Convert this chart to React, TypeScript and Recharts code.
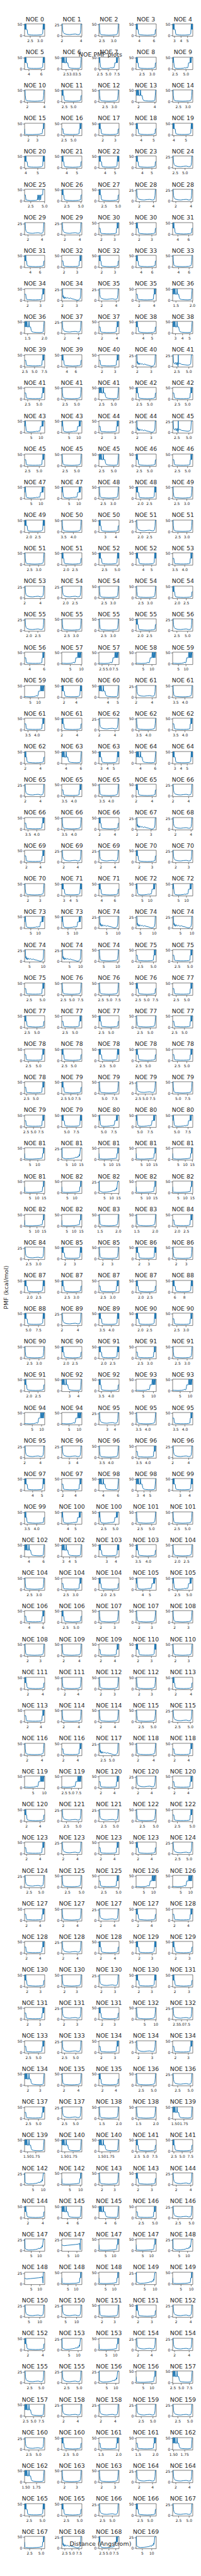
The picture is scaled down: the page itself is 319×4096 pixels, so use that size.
import React from "react";
import { LineChart, Line, XAxis, YAxis, ReferenceArea } from "recharts";

// whole figure is drawn at 0.738 of the reference size
const S = 0.738;
const FONT = "DejaVu Sans, sans-serif";
const INK = "#262626";
const BLUE = "#1f77b4";

// grid geometry in reference pixels
const COL_LEFT = [53.3, 132.9, 212.5, 292.1, 371.7];
const ROW_TOP0 = 51.7;
const PITCH = 71.23;
const AX_W = 43.3;
const AX_H = 26.6;

const PAD_L = 22;
const PAD_R = 8;
const PAD_T = 3;
const PAD_B = 14;

// one entry per subplot, row by row, five per row
const NOE_IDS = [
  0, 1, 2, 3, 4, 5, 6, 7, 8, 9, 10, 11, 12, 13, 14, 15, 16, 17, 18, 19,
  20, 21, 22, 23, 24, 25, 26, 27, 28, 28, 29, 29, 30, 30, 31, 31, 32, 32, 33, 33,
  34, 34, 35, 35, 36, 36, 37, 37, 38, 38, 39, 39, 40, 40, 41, 41, 41, 41, 42, 42,
  43, 43, 44, 44, 45, 45, 45, 45, 46, 46, 47, 47, 48, 48, 49, 49, 50, 50, 51, 51,
  51, 51, 52, 52, 53, 53, 54, 54, 54, 54, 55, 55, 55, 55, 56, 56, 57, 57, 58, 59,
  59, 60, 60, 61, 61, 61, 61, 62, 62, 62, 62, 63, 63, 64, 64, 65, 65, 65, 65, 66,
  66, 66, 66, 67, 68, 69, 69, 69, 70, 70, 70, 71, 71, 72, 72, 73, 73, 74, 74, 74,
  74, 74, 74, 75, 75, 75, 76, 76, 76, 77, 77, 77, 77, 77, 77, 78, 78, 78, 78, 78,
  78, 79, 79, 79, 79, 79, 79, 80, 80, 80, 81, 81, 81, 81, 81, 81, 82, 82, 82, 82,
  82, 82, 83, 83, 84, 84, 85, 85, 86, 86, 87, 87, 87, 87, 88, 88, 89, 89, 90, 90,
  90, 90, 91, 91, 91, 91, 92, 92, 93, 93, 94, 94, 95, 95, 95, 95, 96, 96, 96, 96,
  97, 97, 98, 98, 99, 99, 100, 100, 101, 101, 102, 102, 103, 103, 104, 104, 104, 104, 105, 105,
  106, 106, 107, 107, 108, 108, 109, 109, 110, 110, 111, 111, 112, 112, 113, 113, 114, 114, 115, 115,
  116, 116, 117, 118, 118, 119, 119, 120, 120, 120, 120, 121, 121, 122, 122, 123, 123, 123, 123, 124,
  124, 125, 125, 126, 126, 127, 127, 127, 127, 128, 128, 128, 128, 129, 129, 130, 130, 130, 130, 131,
  131, 131, 131, 132, 132, 133, 133, 134, 134, 134, 134, 135, 135, 136, 136, 137, 137, 138, 138, 139,
  139, 140, 140, 141, 141, 142, 142, 143, 143, 144, 144, 145, 145, 146, 146, 147, 147, 147, 147, 148,
  148, 148, 148, 149, 149, 150, 150, 151, 151, 152, 152, 153, 153, 154, 154, 155, 155, 156, 156, 157,
  157, 158, 158, 159, 159, 160, 160, 161, 161, 162, 162, 163, 163, 164, 164, 165, 165, 166, 166, 167,
  167, 168, 168, 169,
];

// top y tick of each subplot (50 or 25)
const Y_TOPS = [
  50, 25, 50, 50, 50, 50, 50, 50, 50, 50, 50, 50, 50, 50, 50, 50, 50, 50, 50, 50,
  50, 50, 50, 50, 25, 50, 50, 50, 25, 25, 25, 25, 50, 50, 50, 50, 50, 50, 50, 50,
  50, 25, 25, 50, 50, 50, 25, 50, 50, 50, 50, 50, 50, 25, 25, 50, 50, 50, 50, 50,
  50, 50, 50, 25, 25, 50, 50, 50, 50, 50, 50, 50, 50, 50, 50, 50, 50, 50, 25, 50,
  50, 50, 50, 50, 50, 25, 25, 50, 50, 50, 25, 50, 50, 50, 25, 50, 50, 50, 50, 50,
  50, 50, 50, 25, 50, 50, 50, 25, 50, 50, 50, 50, 50, 50, 50, 25, 50, 50, 50, 25,
  50, 50, 50, 25, 25, 50, 25, 25, 50, 25, 50, 50, 50, 50, 50, 50, 50, 25, 25, 25,
  25, 25, 50, 50, 50, 50, 50, 50, 50, 50, 50, 50, 50, 50, 50, 50, 50, 50, 50, 50,
  50, 50, 50, 25, 50, 50, 50, 50, 50, 50, 50, 25, 50, 50, 50, 50, 50, 25, 50, 50,
  50, 50, 50, 50, 50, 25, 50, 50, 50, 50, 50, 50, 50, 50, 50, 50, 25, 50, 50, 50,
  50, 50, 50, 50, 50, 50, 50, 50, 50, 50, 50, 50, 25, 50, 50, 25, 25, 50, 50, 25,
  50, 50, 50, 50, 50, 50, 50, 50, 50, 50, 50, 50, 50, 50, 50, 50, 50, 50, 50, 50,
  50, 50, 50, 50, 50, 50, 50, 50, 50, 50, 50, 50, 50, 50, 50, 50, 50, 50, 50, 25,
  50, 50, 25, 50, 50, 50, 50, 50, 25, 50, 50, 25, 25, 50, 50, 50, 25, 50, 50, 25,
  25, 50, 50, 50, 50, 50, 50, 25, 50, 50, 50, 25, 50, 50, 50, 50, 50, 25, 50, 50,
  50, 25, 50, 50, 25, 50, 25, 50, 25, 50, 50, 50, 50, 50, 25, 50, 25, 50, 50, 50,
  50, 50, 50, 50, 50, 25, 50, 50, 50, 25, 50, 50, 50, 50, 25, 25, 25, 50, 50, 25,
  25, 50, 50, 25, 50, 25, 25, 50, 50, 25, 50, 25, 50, 25, 25, 25, 25, 25, 50, 50,
  50, 25, 25, 25, 25, 25, 50, 50, 50, 50, 50, 50, 50, 25, 25, 50, 50, 25, 50, 25,
  50, 25, 50, 25,
];

// curve family of each subplot, one string per row
const SHAPES = [
  "AHDBA", "AMFBF", "DBDMD", "GCBBA", "ABABH", "NBBHH", "HHCBB", "BCBBD",
  "CIHCM", "MHCBM", "CBCIL", "CDMBC", "FFCIL", "CDMBC", "FFDAD", "ADBHD",
  "DBAAC", "HHDDB", "HDDBH", "CEEEE", "EAMHD", "CBHDC", "BMAMA", "HCDBH",
  "CDBIH", "CHHBH", "DABFF", "FFIII", "IIDCC", "CDDBC", "BCBDC", "CBABC",
  "CBDHD", "CAFFF", "GJGGG", "GGJGG", "GGDDC", "HADAD", "ABCBA", "AHAAC",
  "DBACD", "BMBEE", "EEHDC", "HHDCH", "ACMMA", "BFFDD", "MMABD", "DCBFF",
  "CBDDD", "DDCAD", "BDDDB", "CDDDH", "DCIDC", "EECHC", "BHHDC", "CHCBH",
  "HDCEE", "CDHBC", "CHBAB", "BDHAB", "CHBDH", "CHCHC", "MDBDH", "CHDDM",
  "MMMBB", "JGDBH", "BMMCH", "JKGGJ", "KGGJG", "HHDBH", "BJGHH", "HHJGM",
  "MHHHH", "HBCCM", "MDDHH", "ABHBH", "GIFJ",
].join("").split("");

const X_MIN = [
  [2.21, 1.97, 2.37, 3.55, 2.71], [3.3, 2.14, 2.22, 2.21, 1.96], [1.67, 1.71, 2.16, 1.69, 2.19],
  [1.56, 1.88, 1.69, 3.59, 3.9], [3.9, 3.51, 3.37, 3.34, 1.8], [1.39, 1.58, 1.58, 1.53, 1.59],
  [1.51, 1.58, 1.81, 1.75, 3.04], [2.83, 1.82, 1.79, 3.06, 2.87], [1.76, 1.95, 1.61, 1.58, 1.4],
  [1.41, 1.55, 1.58, 3.19, 2.6], [2.42, 2.84, 1.76, 1.91, 1.61], [1.83, 1.77, 1.92, 1.76, 1.35],
  [1.53, 1.15, 1.76, 1.91, 1.61], [1.83, 1.77, 1.92, 1.76, 1.35], [1.53, 1.15, 2.28, 1.75, 2.29],
  [1.75, 3.4, 2.39, 1.75, 2.21], [2.21, 1.75, 1.4, 3.15, 3.38], [1.99, 1.79, 2.21, 2.23, 1.74],
  [1.75, 2.21, 2.24, 1.75, 1.51], [3.3, 1.07, 1.32, 0.82, 1.15], [1.5, 1.62, 3.08, 1.98, 3.33],
  [3.31, 1.99, 1.94, 3.35, 3.33], [1.9, 3.41, 2.6, 3.41, 2.62], [1.9, 3.35, 3.32, 1.98, 1.94],
  [3.3, 3.35, 1.9, 1.93, 1.64], [1.73, 1.71, 1.71, 1.74, 1.76], [1.72, 2.63, 3.58, 1.0, 1.2],
  [1.0, 1.0, 1.58, 3.4, 1.53], [3.18, 1.43, 3.26, 1.66, 1.56], [1.62, 2.05, 1.9, 1.91, 1.64],
  [1.83, 1.63, 1.85, 1.55, 2.02], [1.54, 1.79, 1.62, 1.83, 1.25], [1.96, 1.78, 3.59, 1.79, 3.54],
  [1.97, 3.63, 3.8, 4.04, 4.05], [1.49, 1.56, 1.02, 1.02, 1.02], [1.1, 1.3, 1.0, 1.02, 1.02],
  [1.1, 1.5, 1.47, 1.48, 1.74], [2.29, 1.64, 1.58, 1.65, 1.64], [1.71, 2.2, 2.27, 1.73, 5.5],
  [4.04, 1.96, 3.32, 1.75, 2.27], [2.23, 1.75, 1.73, 2.27, 2.23], [1.74, 2.12, 3.37, 1.46, 1.13],
  [0.83, 1.27, 1.94, 3.36, 3.33], [1.99, 2.05, 3.32, 3.34, 1.99], [3.13, 1.83, 3.41, 2.72, 2.2],
  [3.36, 3.17, 1.47, 1.62, 1.46], [3.41, 2.75, 2.14, 3.4, 1.74], [2.23, 2.27, 1.73, 3.04, 1.5],
  [3.33, 1.58, 1.85, 1.75, 1.86], [1.76, 1.74, 1.71, 1.85, 1.79], [1.54, 1.53, 1.85, 1.75, 1.59],
  [1.53, 1.73, 1.71, 1.44, 1.51], [1.64, 1.78, 1.23, 1.74, 1.73], [1.18, 1.56, 1.7, 1.7, 1.73],
  [1.7, 1.53, 1.49, 1.34, 1.71], [1.7, 1.78, 1.7, 1.7, 1.4], [1.53, 1.47, 1.68, 0.9, 0.74],
  [1.7, 1.78, 1.7, 1.7, 1.73], [1.7, 1.78, 1.71, 1.74, 1.77], [1.8, 1.77, 1.82, 1.78, 1.83],
  [1.75, 1.82, 1.74, 1.13, 1.1], [1.54, 1.88, 1.82, 1.82, 1.78], [1.72, 1.67, 1.46, 1.47, 1.51],
  [1.54, 1.88, 1.41, 1.43, 1.42], [1.41, 1.41, 1.41, 2.24, 2.12], [0.77, 1.18, 1.75, 1.85, 1.5],
  [1.54, 2.88, 2.63, 1.56, 1.47], [1.02, 1.02, 0.94, 1.09, 1.04], [1.09, 1.15, 1.09, 0.77, 0.92],
  [3.0, 3.21, 1.75, 1.85, 1.5], [1.54, 0.95, 0.9, 1.7, 1.74], [1.4, 1.5, 0.69, 0.82, 2.4],
  [2.15, 1.73, 1.72, 1.4, 1.43], [1.37, 1.33, 1.44, 1.44, 1.48], [1.47, 1.77, 1.79, 1.53, 1.54],
  [1.62, 1.62, 1.59, 1.48, 1.08], [1.4, 1.39, 1.36, 1.67],
].flat();

const X_MAX = [
  [3.24, 4.08, 3.23, 6.3, 5.8], [6.55, 3.81, 8.14, 3.2, 6.54], [4.04, 7.37, 3.27, 4.17, 3.26],
  [3.84, 7.25, 3.3, 5.2, 5.56], [5.58, 5.49, 5.41, 5.46, 7.0], [5.02, 5.17, 5.17, 4.4, 4.23],
  [4.4, 4.29, 3.33, 3.35, 6.75], [6.95, 3.37, 3.31, 6.74, 6.69], [3.33, 3.35, 4.39, 4.29, 2.01],
  [2.01, 4.48, 4.29, 5.46, 5.44], [7.62, 7.37, 3.31, 3.37, 5.82], [6.17, 6.07, 6.1, 6.5, 6.27],
  [12.0, 11.7, 3.31, 3.37, 5.82], [6.17, 6.07, 6.1, 6.5, 6.27], [12.0, 11.7, 3.3, 2.89, 3.3],
  [2.89, 4.44, 4.31, 2.89, 3.33], [3.35, 2.89, 5.34, 5.54, 4.41], [4.55, 2.87, 3.34, 3.36, 2.86],
  [2.89, 3.34, 3.33, 2.89, 6.21], [6.06, 10.3, 8.9, 12.5, 14.5], [13.8, 4.92, 5.13, 4.51, 4.43],
  [4.43, 4.63, 4.52, 4.43, 4.43], [4.58, 6.13, 5.86, 6.13, 5.9], [4.58, 4.43, 4.45, 4.51, 4.53],
  [4.46, 4.43, 4.53, 3.37, 4.22], [4.62, 4.58, 4.58, 3.32, 3.32], [3.38, 5.78, 6.61, 13.9, 14.0],
  [14.0, 13.9, 10.4, 10.74, 10.4], [10.57, 10.64, 10.5, 5.54, 5.56], [5.44, 7.9, 7.87, 7.77, 6.42],
  [6.98, 6.75, 7.06, 6.44, 7.1], [6.54, 7.17, 6.58, 7.2, 6.58], [7.4, 8.94, 8.63, 8.8, 8.88],
  [8.8, 9.0, 8.77, 9.0, 8.56], [14.5, 15.4, 15.7, 15.7, 15.3], [15.55, 14.5, 15.4, 15.7, 15.3],
  [15.55, 15.4, 2.02, 2.03, 2.86], [3.32, 3.75, 3.73, 3.8, 3.64], [2.85, 3.31, 3.34, 2.86, 9.77],
  [9.04, 4.51, 4.42, 2.89, 3.37], [3.31, 2.89, 2.86, 3.34, 3.3], [2.88, 4.39, 4.41, 11.4, 11.45],
  [11.7, 11.5, 4.52, 4.46, 4.43], [4.55, 4.58, 4.47, 4.47, 4.51], [5.3, 5.01, 6.13, 5.99, 4.33],
  [4.43, 5.85, 5.77, 5.98, 6.23], [6.15, 5.98, 4.36, 4.39, 2.84], [3.31, 3.34, 2.86, 5.91, 5.77],
  [6.22, 6.32, 3.32, 3.35, 3.32], [3.33, 4.34, 4.58, 3.36, 3.31], [4.25, 4.56, 3.32, 3.35, 4.23],
  [4.59, 4.39, 4.58, 5.58, 5.46], [4.38, 4.56, 7.1, 4.32, 4.58], [10.2, 8.72, 4.67, 4.67, 4.64],
  [4.69, 5.71, 5.68, 5.09, 5.08], [4.69, 4.64, 4.67, 4.67, 5.79], [5.75, 5.06, 5.08, 11.5, 11.2],
  [4.69, 4.64, 4.67, 4.67, 4.64], [4.69, 4.64, 4.58, 3.32, 3.24], [3.33, 3.41, 3.3, 3.34, 3.28],
  [3.38, 3.37, 3.35, 10.2, 9.9], [6.54, 6.35, 3.3, 3.3, 3.34], [3.38, 4.48, 4.49, 5.5, 5.46],
  [6.54, 6.35, 2.005, 2.01, 2.01], [2.02, 2.01, 2.01, 7.9, 8.21], [10.77, 10.66, 3.35, 3.32, 4.28],
  [4.25, 6.79, 6.73, 5.23, 5.24], [13.06, 12.96, 13.1, 12.8, 13.1], [12.9, 13.56, 12.8, 10.7, 10.77],
  [12.3, 12.4, 3.35, 3.32, 4.28], [4.25, 12.07, 12.2, 4.67, 4.49], [5.73, 5.53, 11.8, 12.5, 8.5],
  [8.59, 4.6, 4.52, 5.7, 5.58], [6.6, 6.7, 2.01, 2.02, 1.93], [1.94, 3.41, 3.31, 4.56, 4.48],
  [5.44, 5.41, 6.7, 6.52, 5.86], [5.73, 8.56, 8.7, 12.4],
].flat();

// x tick labels, one string per row, subplots split by "|"
const X_TICKS = [
  "2.5 3.0|2 4|2.5 3.0|4 6|3 4 5",
  "4 6|2.5 3.0 3.5|2.5 5.0 7.5|2.5 3.0|2.5 5.0",
  "2 4|2.5 5.0|2.5 3.0|2 4|2.5 3.0",
  "2 3|2.5 5.0|2 3|4 5|4 5",
  "4 5|4 5|4 5|4 5|2.5 5.0",
  "2.5 5.0|2.5 5.0|2.5 5.0|2 4|2 4",
  "2 4|2 4|2 3|2 3|4 6",
  "4 6|2 3|2 3|4 6|4 6",
  "2 3|2 3|2 4|2 4|1.5 2.0",
  "1.5 2.0|2 4|2 4|4 5|3 4 5",
  "2.5 5.0 7.5|4 6|2 3|2 3|2.5 5.0",
  "2.5 5.0|2.5 5.0|2.5 5.0|2.5 5.0|2.5 5.0",
  "5 10|5 10|2 3|2 3|2.5 5.0",
  "2.5 5.0|2.5 5.0|2.5 5.0|2.5 5.0|2.5 5.0",
  "5 10|5 10|2.5 3.0|2.0 2.5|2.5 3.0",
  "2.0 2.5|3.5 4.0|3 4|2.0 2.5|2.5 3.0",
  "2.5 3.0|2.0 2.5|2.5 5.0|4 5|3.5 4.0",
  "2 4|2.0 2.5|2.5 3.0|2.5 3.0|2.0 2.5",
  "2.0 2.5|2.5 3.0|2.5 3.0|2.0 2.5|2.5 5.0",
  "4 6|5 10|2.5 5.0 7.5|5 10|5 10",
  "5 10|2 4|4 5|2 4|3.5 4.0",
  "3.5 4.0|2 4|2 4|3.5 4.0|3.5 4.0",
  "2 4|4 6|3 4 5|4 6|3 4 5",
  "2 4|3.5 4.0|3.5 4.0|2 4|2 4",
  "3.5 4.0|3.5 4.0|2 4|2 3|2 4",
  "2 4|2 4|2 4|2 3|2 3",
  "2 3|3 4 5|4 6|5 10|5 10",
  "5 10|5 10|5 10|5 10|5 10",
  "5 10|5 10|5 10|2.5 5.0|2.5 5.0",
  "2.5 5.0|2.5 5.0 7.5|2.5 5.0 7.5|2.5 5.0 7.5|2.5 5.0",
  "2.5 5.0|2.5 5.0|2.5 5.0|2.5 5.0|2.5 5.0",
  "2.5 5.0|2.5 5.0|2.5 5.0|2.5 5.0|2.5 5.0",
  "2.5 5.0|2.5 5.0 7.5|5.0 7.5|2.5 5.0 7.5|5.0 7.5",
  "2.5 5.0 7.5|5.0 7.5|5.0 7.5|5.0 7.5|5.0 7.5",
  "5 10|5 10 15|5 10 15|5 10 15|5 10 15",
  "5 10 15|5 10|5 10 15|5 10 15|5 10 15",
  "5 10 15|5 10 15|1.5 2.0|1.5 2.0|2.0 2.5",
  "2.5 3.0|2 3|2 3|2 3|2 3",
  "2.0 2.5|2.5 3.0|2.5 3.0|2.0 2.5|6 8",
  "5.0 7.5|2 4|3.5 4.0|2.0 2.5|2.5 3.0",
  "2.5 3.0|2.0 2.5|2.0 2.5|2.5 3.0|2.5 3.0",
  "2.0 2.5|3 4|3.5 4.0|5 10|5 10",
  "5 10|5 10|3 4|3.5 4.0|3.5 4.0",
  "2 4|3 4|3.5 4.0|3.5 4.0|2 4",
  "4 5|2 4|4 6|3 4 5|3 4",
  "3.5 4.0|4 5|2.5 5.0|2.5 5.0|2.5 5.0",
  "4 6|3 4 5|3 4|3.5 4.0|2.0 2.5",
  "2.5 3.0|2.5 3.0|2.0 2.5|4 5|2.5 5.0",
  "4 6|2.5 5.0|2 3|2 3|2 3",
  "2 3|2 4|2 4|2 3|2 3",
  "2 4|2 4|2 3|2 3|2 4",
  "2 4|2 4|2 4|2.5 5.0|2.5 5.0",
  "2 4|2 4|2.5 5.0|2 4|2 4",
  "5 10|2.5 5.0 7.5|2 4|2 4|2 4",
  "2 4|2.5 5.0|2.5 5.0|2.5 5.0|2.5 5.0",
  "2 4|2 4|2 4|2 4|2.5 5.0",
  "2.5 5.0|2.5 5.0|2.5 5.0|5 10|5 10",
  "2 4|2 4|2 4|2 4|2 4",
  "2 4|2 4|2 4|2 3|2 3",
  "2 3|2 3|2 3|2 3|2 3",
  "2 3|2 3|2 3|5 10|2.5 5.0 7.5",
  "2.5 5.0|2.5 5.0|2 3|2 3|2 3",
  "2 3|2 4|2 4|2.5 5.0|2.5 5.0",
  "2.5 5.0|2.5 5.0|1.5 2.0|1.5 2.0|1.50 1.75",
  "1.50 1.75|1.50 1.75|1.50 1.75|2.5 5.0 7.5|2.5 5.0 7.5",
  "5 10|5 10|2 3|2 3|2 4",
  "2 4|4 6|4 6|2.5 5.0|2.5 5.0",
  "5 10|5 10|5 10|5 10|5 10",
  "5 10|5 10|5 10|5 10|5 10",
  "5 10|5 10|2 3|2 3|2 4",
  "2 4|5 10|5 10|2 4|2 4",
  "2.5 5.0|2.5 5.0|5 10|5 10|2.5 5.0 7.5",
  "2.5 5.0 7.5|2 4|2 4|2.5 5.0|2.5 5.0",
  "2.5 5.0|2.5 5.0|1.5 2.0|1.5 2.0|1.50 1.75",
  "1.50 1.75|2 3|2 3|2 4|2 4",
  "2.5 5.0|2.5 5.0|2.5 5.0|2.5 5.0|2.5 5.0",
  "2.5 5.0|2.5 5.0 7.5|2.5 5.0 7.5|5 10",
].join("|").split("|").map((s) => s.split(" "));

// PMF curve families: [position across the range (0-1), kcal/mol]
type Pt = [number, number];
const SHAPE_A: Pt[] = [[0, 53], [0.012, 28], [0.024, 53], [0.036, 28], [0.048, 53], [0.06, 28], [0.072, 53], [0.084, 28], [0.1, 28], [0.13, 27], [0.15, 10], [0.17, 5], [0.22, 4], [0.32, 3], [0.45, 2.5], [0.6, 2.5], [0.72, 3], [0.82, 4], [0.87, 6], [0.9, 10], [0.91, 28], [0.924, 53], [0.936, 28], [0.948, 53], [0.96, 28], [0.972, 53], [0.984, 28], [1, 53]];
const SHAPE_B: Pt[] = [[0, 53], [0.015, 28], [0.03, 53], [0.045, 28], [0.06, 53], [0.075, 28], [0.1, 28], [0.12, 10], [0.15, 5], [0.25, 3.5], [0.4, 2.5], [0.55, 2], [0.7, 2.5], [0.83, 3.5], [0.9, 5], [0.94, 7], [0.955, 27], [0.97, 28], [1, 28]];
const SHAPE_C: Pt[] = [[0, 28], [0.06, 28], [0.08, 10], [0.1, 5], [0.2, 3.5], [0.4, 2.5], [0.55, 2.5], [0.7, 3], [0.8, 4], [0.86, 6], [0.875, 28], [0.9, 28], [0.91, 53], [0.925, 28], [0.94, 53], [0.955, 28], [0.97, 53], [1, 53]];
const SHAPE_D: Pt[] = [[0, 53], [0.025, 53], [0.035, 30], [0.06, 10], [0.1, 5], [0.2, 3.5], [0.35, 2.5], [0.5, 2], [0.65, 2.5], [0.8, 3.5], [0.9, 6], [0.93, 12], [0.95, 30], [0.965, 53], [1, 53]];
const SHAPE_E: Pt[] = [[0, 4], [0.08, 3], [0.25, 2], [0.45, 3], [0.55, 5], [0.6, 8], [0.64, 4], [0.67, 10], [0.7, 28], [0.78, 28], [0.8, 53], [0.82, 28], [0.84, 53], [0.86, 28], [0.88, 53], [0.9, 28], [0.92, 53], [0.94, 28], [0.96, 53], [1, 53]];
const SHAPE_F: Pt[] = [[0, 53], [0.02, 28], [0.04, 53], [0.06, 28], [0.08, 10], [0.12, 4], [0.25, 2], [0.4, 2.5], [0.55, 4], [0.62, 6], [0.66, 3], [0.7, 8], [0.74, 5], [0.77, 12], [0.79, 28], [0.86, 28], [0.875, 53], [0.89, 28], [0.905, 53], [0.92, 28], [0.94, 53], [1, 53]];
const SHAPE_G: Pt[] = [[0, 28], [0.015, 6], [0.05, 3], [0.2, 2], [0.4, 2], [0.6, 3], [0.75, 4], [0.82, 6], [0.86, 5], [0.88, 9], [0.9, 28], [0.93, 28], [0.94, 53], [0.955, 28], [0.97, 53], [1, 53]];
const SHAPE_H: Pt[] = [[0, 28], [0.03, 28], [0.045, 14], [0.07, 8], [0.12, 5], [0.25, 3], [0.4, 2.5], [0.55, 3.5], [0.68, 4], [0.8, 2.5], [0.88, 3], [0.92, 6], [0.94, 14], [0.955, 28], [1, 28]];
const SHAPE_I: Pt[] = [[0, 28], [0.04, 28], [0.055, 8], [0.07, 12], [0.09, 5], [0.12, 9], [0.15, 4], [0.19, 8], [0.24, 5], [0.3, 7], [0.36, 4], [0.42, 6], [0.5, 4], [0.6, 3], [0.7, 1.5], [0.78, 0.5], [0.86, 1.5], [0.91, 4], [0.935, 10], [0.95, 28], [1, 28]];
const SHAPE_J: Pt[] = [[0, 28], [0.015, 28], [0.025, 6], [0.08, 3], [0.2, 1.5], [0.4, 2], [0.55, 3], [0.65, 4], [0.72, 6], [0.76, 4], [0.8, 8], [0.84, 6], [0.87, 12], [0.89, 9], [0.91, 18], [0.93, 27], [1, 28]];
const SHAPE_K: Pt[] = [[0, 14], [0.1, 12], [0.3, 13], [0.5, 14], [0.7, 15], [0.85, 16], [0.88, 18], [0.9, 13], [0.915, 2], [0.93, 28], [1, 28]];
const SHAPE_L: Pt[] = [[0, 28], [0.03, 28], [0.05, 8], [0.1, 6], [0.14, 10], [0.18, 4], [0.22, 10], [0.25, 3], [0.27, 0], [0.28, 28], [0.29, 5], [0.34, 8], [0.45, 5], [0.6, 4], [0.75, 3], [0.85, 4], [0.9, 7], [0.93, 28], [1, 28]];
const SHAPE_M: Pt[] = [[0, 53], [0.02, 28], [0.04, 53], [0.06, 28], [0.08, 53], [0.1, 28], [0.12, 53], [0.14, 28], [0.2, 28], [0.22, 53], [0.24, 28], [0.3, 28], [0.33, 12], [0.37, 6], [0.45, 4], [0.6, 3], [0.75, 2.5], [0.88, 3.5], [0.93, 6], [0.95, 28], [0.97, 53], [1, 53]];
const SHAPE_N: Pt[] = [[0, 28], [0.04, 28], [0.07, 5], [0.3, 2], [0.55, 3], [0.64, 6], [0.66, 28], [0.68, 5], [0.72, 28], [0.74, 3], [0.78, 28], [0.8, 5], [0.82, 28], [0.9, 28], [0.91, 53], [1, 53]];

const SHAPE_TABLE: Record<string, Pt[]> = {
  A: SHAPE_A, B: SHAPE_B, C: SHAPE_C, D: SHAPE_D, E: SHAPE_E, F: SHAPE_F, G: SHAPE_G,
  H: SHAPE_H, I: SHAPE_I, J: SHAPE_J, K: SHAPE_K, L: SHAPE_L, M: SHAPE_M, N: SHAPE_N,
};

const tickStyle = { fontSize: 5.95, fill: INK, fontFamily: FONT };

function Panel({ i }: { i: number }) {
  const r = Math.floor(i / 5);
  const c = i % 5;
  const w = AX_W * S;
  const h = AX_H * S;
  const x0 = X_MIN[i];
  const x1 = X_MAX[i];
  const labels = X_TICKS[i];
  const yTop = Y_TOPS[i];
  const yDomain: [number, number] = yTop === 50 ? [-2.7, 53.5] : [-1.4, 28.3];
  const data = SHAPE_TABLE[SHAPES[i]].map(([f, y]) => ({ x: x0 + f * (x1 - x0), y }));

  return (
    <div
      style={{
        position: "absolute",
        left: COL_LEFT[c] * S - PAD_L,
        top: (ROW_TOP0 + r * PITCH) * S - PAD_T,
      }}
    >
      <LineChart
        width={w + PAD_L + PAD_R}
        height={h + PAD_T + PAD_B}
        data={data}
        margin={{ top: PAD_T, right: PAD_R, left: 0, bottom: 0 }}
      >
        <XAxis
          type="number"
          dataKey="x"
          domain={[x0, x1]}
          allowDataOverflow
          ticks={labels.map(Number)}
          interval={0}
          tickFormatter={(v: number) => labels[labels.map(Number).indexOf(v)] ?? String(v)}
          height={PAD_B}
          tickSize={2.6}
          tickMargin={2.4}
          axisLine={false}
          tickLine={{ stroke: INK, strokeWidth: 0.6 }}
          tick={tickStyle}
        />
        <YAxis
          type="number"
          domain={yDomain}
          allowDataOverflow
          ticks={[0, yTop]}
          interval={0}
          width={PAD_L}
          tickSize={2.6}
          tickMargin={1.2}
          axisLine={false}
          tickLine={{ stroke: INK, strokeWidth: 0.6 }}
          tick={tickStyle}
        />
        <ReferenceArea
          x1={x0}
          x2={x1}
          y1={yDomain[0]}
          y2={yDomain[1]}
          fill="none"
          fillOpacity={0}
          stroke={INK}
          strokeWidth={0.6}
        />
        <Line
          type="linear"
          dataKey="y"
          stroke={BLUE}
          strokeWidth={1}
          dot={false}
          isAnimationActive={false}
        />
      </LineChart>
    </div>
  );
}

export default function App() {
  return (
    <div
      style={{
        position: "absolute",
        left: 0,
        top: 0,
        width: 319,
        height: 4096,
        overflow: "hidden",
        background: "#ffffff",
      }}
    >
      {NOE_IDS.map((_, i) => (
        <Panel key={i} i={i} />
      ))}
      <svg
        width={319}
        height={4096}
        style={{ position: "absolute", left: 0, top: 0, pointerEvents: "none" }}
      >
        {NOE_IDS.map((id, i) => (
          <text
            key={i}
            x={(COL_LEFT[i % 5] + AX_W / 2) * S}
            y={(45.7 + Math.floor(i / 5) * PITCH) * S}
            textAnchor="middle"
            fontSize={9.37}
            fontFamily={FONT}
            fill={INK}
          >
            {`NOE ${id}`}
          </text>
        ))}
        <text x={159.4} y={90} textAnchor="middle" fontSize={9.5} fontFamily={FONT} fill={INK}>
          NOE PMF plots
        </text>
        <text x={159.4} y={4048.4} textAnchor="middle" fontSize={9.5} fontFamily={FONT} fill={INK}>
          Distance (Angstrom)
        </text>
        <text
          transform="translate(13,2047) rotate(-90)"
          textAnchor="middle"
          fontSize={9.45}
          fontFamily={FONT}
          fill={INK}
        >
          PMF (kcal/mol)
        </text>
      </svg>
    </div>
  );
}
